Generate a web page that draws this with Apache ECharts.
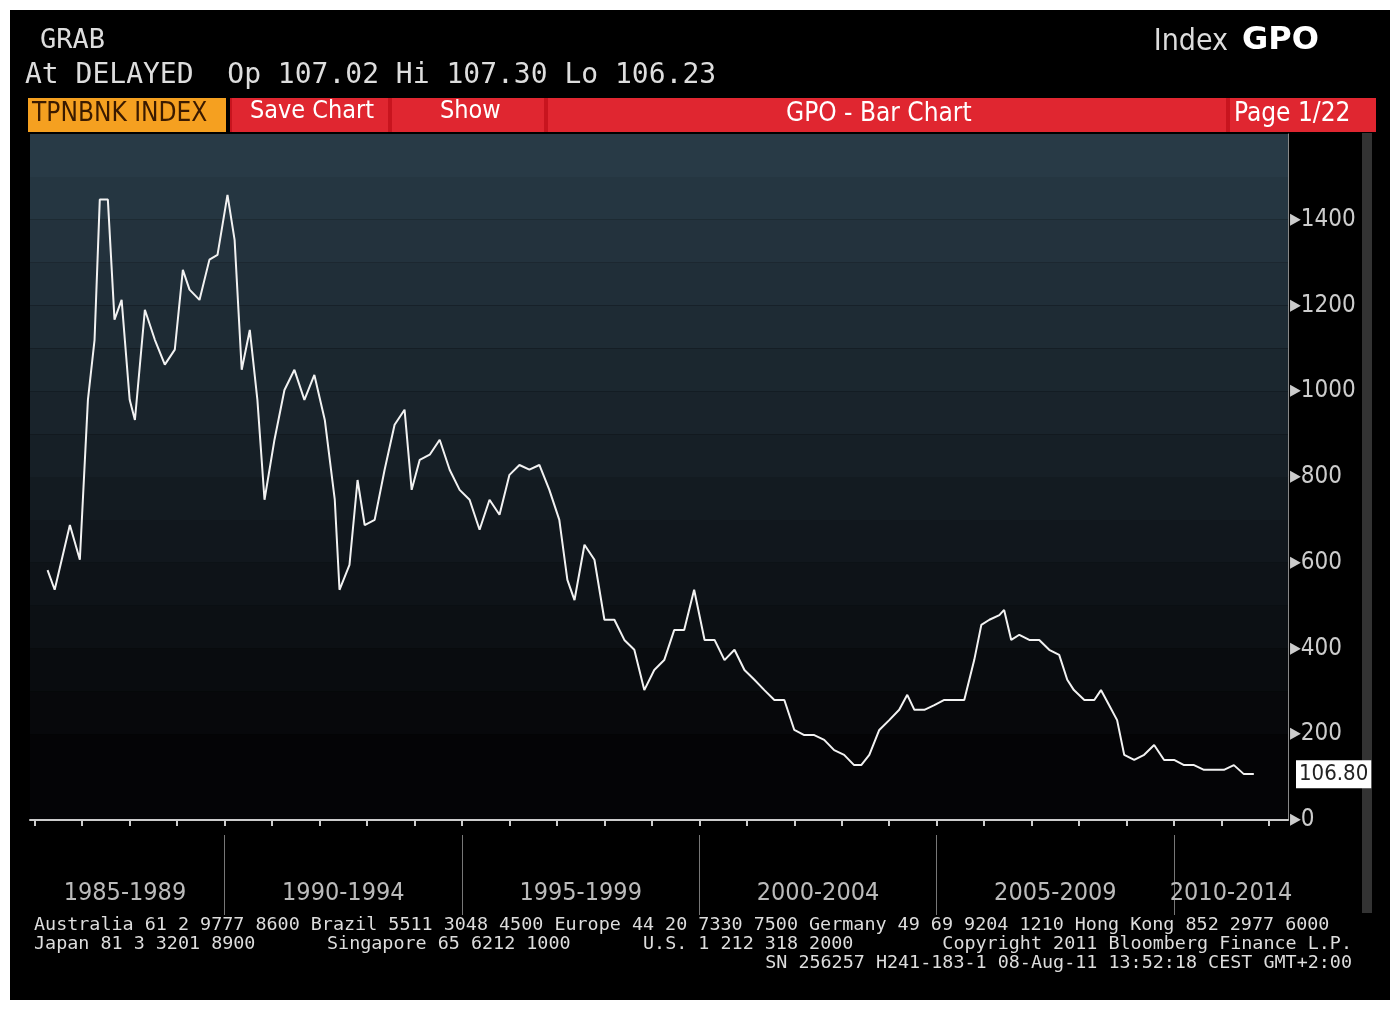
<!DOCTYPE html>
<html><head><meta charset="utf-8">
<script src="https://cdn.jsdelivr.net/npm/echarts@6/dist/echarts.min.js"></script>
<style>html,body{margin:0;background:#fff}#charts{width:1400px;height:1010px}</style>
</head><body><div id="charts"></div>
<script>
// 时间（年份小数）和指数值
var years = [1986.27,1986.42,1986.74,1986.95,1987.12,1987.26,1987.37,1987.54,1987.68,1987.83,1988.00,1988.11,1988.32,1988.53,1988.74,1988.95,1989.12,1989.26,1989.47,1989.68,1989.85,
  1990.06,1990.21,1990.36,1990.53,1990.69,1990.84,1991.05,1991.26,1991.47,1991.68,1991.89,1992.11,1992.32,1992.42,1992.63,1992.80,1992.95,1993.16,1993.37,1993.58,1993.79,1993.94,
  1994.11,1994.32,1994.53,1994.74,1994.95,1995.16,1995.37,1995.58,1995.79,1996.00,1996.21,1996.42,1996.63,1996.84,1997.05,1997.22,1997.37,1997.58,1997.79,1998.00,1998.21,1998.42,
  1998.63,1998.84,1999.05,1999.26,1999.47,1999.68,1999.89,2000.11,2000.32,2000.53,2000.74,2000.95,2001.16,2001.37,2001.58,2001.79,2002.00,2002.21,2002.42,2002.63,2002.84,2003.05,
  2003.26,2003.41,2003.58,2003.79,2004.00,2004.21,2004.38,2004.53,2004.74,2004.95,2005.16,2005.37,2005.58,2005.79,2005.94,2006.11,2006.32,2006.42,2006.57,2006.74,2006.95,2007.16,
  2007.37,2007.58,2007.75,2007.89,2008.11,2008.32,2008.46,2008.63,2008.80,2008.95,2009.16,2009.37,2009.58,2009.79,2010.00,2010.21,2010.42,2010.63,2010.84,2011.05,2011.26,2011.47,2011.68];
var values = [583,537,688,607,980,1120,1447,1447,1167,1213,980,933,1190,1120,1062,1097,1283,1237,1213,1307,1318,
  1458,1353,1050,1143,980,747,887,1003,1050,980,1038,933,747,537,595,793,688,700,817,922,957,770,
  840,852,887,817,770,747,677,747,712,805,828,817,828,770,700,560,513,642,607,467,467,420,
  397,303,350,373,443,443,537,420,420,373,397,350,327,303,280,280,210,198,198,187,163,152,
  128,128,152,210,233,257,292,257,257,268,280,280,280,373,455,467,478,490,420,432,420,420,
  397,385,327,303,280,280,303,268,233,152,140,152,175,140,140,128,128,117,117,117,128,107,107];
var lastValue = 106.80;
var periodLabels = ['1985-1989','1990-1994','1995-1999','2000-2004','2005-2009','2010-2014'];
var labelPos = [1987.9,1992.5,1997.5,2002.5,2007.5,2011.2];
var yearTicks = [1986,1987,1988,1989,1990,1991,1992,1993,1994,1995,1996,1997,1998,1999,2000,2001,2002,2003,2004,2005,2006,2007,2008,2009,2010,2011,2012];
var periodTicks = [1990,1995,2000,2005,2010];

var myChart = echarts.init(document.getElementById('charts'));
var data = [];
for (var i = 0; i < years.length; i++) data.push([years[i], values[i]]);

// 背景色带，从下到上由黑变蓝灰
var bands = [];
for (var k = 0; k < 16; k++) {
    var t = Math.max(0, (k - 1) / 14);
    var r = Math.round(4 + 36 * t), g = Math.round(4 + 54 * t), b = Math.round(6 + 64 * t);
    bands.push('rgb(' + r + ',' + g + ',' + b + ')');
}
var mono = 'DejaVu Sans Mono';
var cond = 'DejaVu Sans Condensed';
function txt(x, y, s, size, color) {
    return {type: 'text', left: x, top: y, style: {text: s, fill: color || '#ddd', font: (size || 28) + 'px "' + mono + '"'}};
}
function box(x, y, w, h, c) { return {type: 'rect', shape: {x: x, y: y, width: w, height: h}, style: {fill: c}}; }

option = {
    backgroundColor: '#fff',
    animation: false,
    graphic: [
        box(10, 10, 1380, 990, '#000'),
        box(30, 133, 1258, 702, '#000'),
        box(1362, 133, 10, 780, '#333'),
        txt(40, 27, 'GRAB', 27, '#ddd'),
        txt(25, 62, 'At DELAYED  Op 107.02 Hi 107.30 Lo 106.23', 28, '#ddd'),
        {type: 'text', right: 172, top: 27, style: {text: 'Index', fill: '#ddd', font: '30px "' + cond + '"'}},
        {type: 'text', left: 1242, top: 25, style: {text: 'GPO', fill: '#fff', font: 'bold 32px "DejaVu Sans"'}},
        box(28, 98, 198, 34, '#f5a020'),
        box(230, 98, 1146, 34, '#c8141e'),
        box(232, 98, 156, 34, '#e02630'),
        box(392, 98, 152, 34, '#e02630'),
        box(548, 98, 678, 34, '#e02630'),
        box(1230, 98, 146, 34, '#e02630'),
        {type: 'text', left: 32, top: 101, style: {text: 'TPNBNK INDEX', fill: '#3a1a00', font: '26px "' + cond + '"'}},
        {type: 'text', left: 250, top: 99, style: {text: 'Save Chart', fill: '#fff', font: '25px "' + cond + '"'}},
        {type: 'text', left: 440, top: 99, style: {text: 'Show', fill: '#fff', font: '25px "' + cond + '"'}},
        {type: 'text', left: 786, top: 101, style: {text: 'GPO - Bar Chart', fill: '#fff', font: '26px "' + cond + '"'}},
        {type: 'text', left: 1234, top: 101, style: {text: 'Page 1/22', fill: '#fff', font: '26px "' + cond + '"'}},
        txt(34, 916, 'Australia 61 2 9777 8600 Brazil 5511 3048 4500 Europe 44 20 7330 7500 Germany 49 69 9204 1210 Hong Kong 852 2977 6000', 18.4, '#ddd'),
        txt(34, 935, 'Japan 81 3 3201 8900', 18.4, '#ddd'),
        txt(327, 935, 'Singapore 65 6212 1000', 18.4, '#ddd'),
        txt(643, 935, 'U.S. 1 212 318 2000', 18.4, '#ddd'),
        {type: 'text', right: 48, top: 935, style: {text: 'Copyright 2011 Bloomberg Finance L.P.', fill: '#ddd', font: '18.4px "' + mono + '"'}},
        {type: 'text', right: 48, top: 954, style: {text: 'SN 256257 H241-183-1 08-Aug-11 13:52:18 CEST GMT+2:00', fill: '#ddd', font: '18.4px "' + mono + '"'}}
    ],
    grid: {left: 30, right: 112, top: 134, bottom: 190},
    xAxis: [{
        type: 'value', min: 1985.9, max: 2012.4, offset: 15,
        axisLine: {lineStyle: {color: '#ccc', width: 2}},
        axisTick: {customValues: yearTicks, length: 6, lineStyle: {color: '#ccc', width: 2}},
        axisLabel: {customValues: labelPos, margin: 46, color: '#bbb', fontSize: 25,
            fontFamily: cond,
            formatter: function (v) { return periodLabels[labelPos.indexOf(v)] || ''; }},
        splitLine: {show: false}
    }, {
        type: 'value', min: 1985.9, max: 2012.4, offset: 15, position: 'bottom',
        axisLine: {show: false},
        axisTick: {customValues: periodTicks, length: 80, lineStyle: {color: '#777', width: 1}},
        axisLabel: {show: false}, splitLine: {show: false}
    }],
    yAxis: {
        type: 'value', position: 'right', min: 0, max: 1600, interval: 100,
        axisLine: {show: true, lineStyle: {color: '#888'}},
        axisTick: {show: false},
        splitLine: {show: false},
        splitArea: {show: true, areaStyle: {color: bands}},
        axisLabel: {margin: 2, color: '#ccc', fontSize: 24, fontFamily: cond,
            formatter: function (v) { return (v % 200 === 0 && v < 1600) ? '▸' + v : ''; }}
    },
    series: [{
        type: 'line', data: data, symbol: 'none',
        lineStyle: {color: '#f2f2f2', width: 2},
        markLine: {
            symbol: 'none', silent: true,
            lineStyle: {color: 'rgba(0,0,0,0)', width: 0},
            data: [{yAxis: lastValue}],
            label: {show: true, position: 'end', distance: 8, formatter: '106.80', color: '#222', backgroundColor: '#fff',
                padding: [3, 3], fontSize: 22, fontFamily: cond}
        }
    }]
};
myChart.setOption(option);
</script>
</body></html>
